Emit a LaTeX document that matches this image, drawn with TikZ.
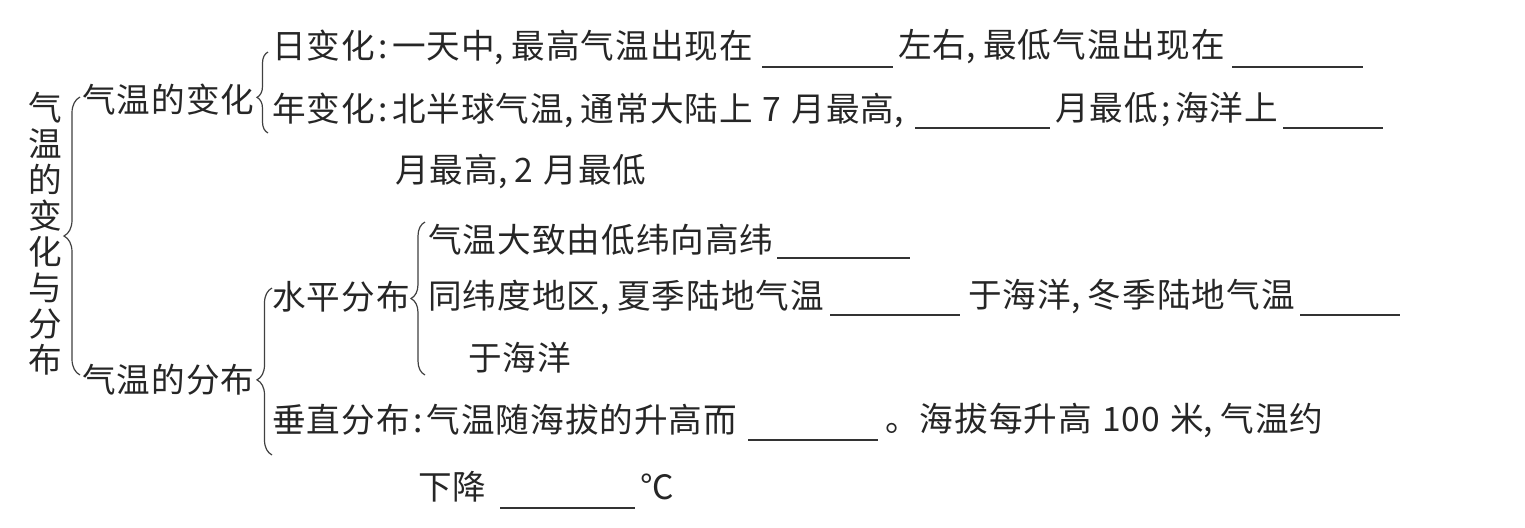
\documentclass[tikz,border=0pt]{standalone}
\usepackage{fontspec}
\setmainfont{Noto Sans CJK SC}[LetterSpace=3]
\usetikzlibrary{decorations.pathreplacing}
\newcommand\hc{\makebox[0.5em][l]{,}}
\newcommand\hcolon{\makebox[0.5em][c]{:}}
\newcommand\hsemi{\makebox[0.5em][c]{;}}
\begin{document}
\begin{tikzpicture}[x=0.5pt,y=-0.5pt,
  txt/.style={anchor=west,inner sep=0pt,font=\fontsize{16.8pt}{17pt}\selectfont,text=black!85},
  blank/.style={line width=0.8pt,black!80},
  bracestyle/.style 2 args={decorate,decoration={brace,amplitude=#1,aspect=#2},line width=0.6pt,black!75}]
\fill[white] (0,0) rectangle (1525,527);
\useasboundingbox (0,0) rectangle (1525,527);
% title
\node[inner sep=0pt,align=center,font=\fontsize{16.8pt}{18pt}\selectfont,text=black!85] (title) at (45,234)
  {气\\温\\的\\变\\化\\与\\分\\布};
% level 1
\node[txt] (n1) at (82,100) {气温的变化};
\node[txt] (n2) at (82,380) {气温的分布};
% braces
\coordinate (b1s) at (80,375); \coordinate (b1e) at (80,97);
\draw[bracestyle={8pt}{0.5}] (b1s) -- (b1e);
\coordinate (b2s) at (268,133); \coordinate (b2e) at (268,52);
\draw[bracestyle={5.5pt}{0.44}] (b2s) -- (b2e);
\coordinate (b3s) at (425,375); \coordinate (b3e) at (425,222);
\draw[bracestyle={7pt}{0.5}] (b3s) -- (b3e);
\coordinate (b4s) at (272,455); \coordinate (b4e) at (272,288);
\draw[bracestyle={7.5pt}{0.45}] (b4s) -- (b4e);
% daily
\node[txt] (d1) at (272,47) {日变化\hcolon 一天中\hc 最高气温出现在};
\coordinate (k1a) at (762,67); \coordinate (k1b) at (893,67);
\draw[blank] (k1a) -- (k1b);
\node[txt] (d1b) at (898,47) {左右\hc 最低气温出现在};
\coordinate (k2a) at (1232,67); \coordinate (k2b) at (1363,67);
\draw[blank] (k2a) -- (k2b);
% yearly
\node[txt] (y1) at (272,110) {年变化\hcolon 北半球气温\hc 通常大陆上\hspace{0.3em}7\hspace{0.3em}月最高\hc};
\coordinate (k3a) at (915,128); \coordinate (k3b) at (1050,128);
\draw[blank] (k3a) -- (k3b);
\node[txt] (y1b) at (1055,110) {月最低\hsemi 海洋上};
\coordinate (k4a) at (1283,128); \coordinate (k4b) at (1383,128);
\draw[blank] (k4a) -- (k4b);
\node[txt] (y2) at (395,172) {月最高\hc 2\hspace{0.3em}月最低};
% horizontal
\node[txt] (h0) at (272,297) {水平分布};
\node[txt] (h1) at (428,240) {气温大致由低纬向高纬};
\coordinate (k5a) at (777,258); \coordinate (k5b) at (910,258);
\draw[blank] (k5a) -- (k5b);
\node[txt] (h2) at (428,297) {同纬度地区\hc 夏季陆地气温};
\coordinate (k6a) at (830,315); \coordinate (k6b) at (960,315);
\draw[blank] (k6a) -- (k6b);
\node[txt] (h2b) at (968,297) {于海洋\hc 冬季陆地气温};
\coordinate (k7a) at (1300,315); \coordinate (k7b) at (1400,315);
\draw[blank] (k7a) -- (k7b);
\node[txt] (h3) at (468,358) {于海洋};
% vertical
\node[txt] (v1) at (272,420) {垂直分布\hcolon 气温随海拔的升高而};
\coordinate (k8a) at (748,440); \coordinate (k8b) at (878,440);
\draw[blank] (k8a) -- (k8b);
\node[txt] (v1b) at (885,420) {。海拔每升高\hspace{0.3em}100\hspace{0.3em}米\hc 气温约};
\node[txt] (v2) at (418,487) {下降};
\coordinate (k9a) at (500,508); \coordinate (k9b) at (635,508);
\draw[blank] (k9a) -- (k9b);
\node[txt] (v2b) at (640,487) {℃};
\end{tikzpicture}
\end{document}
